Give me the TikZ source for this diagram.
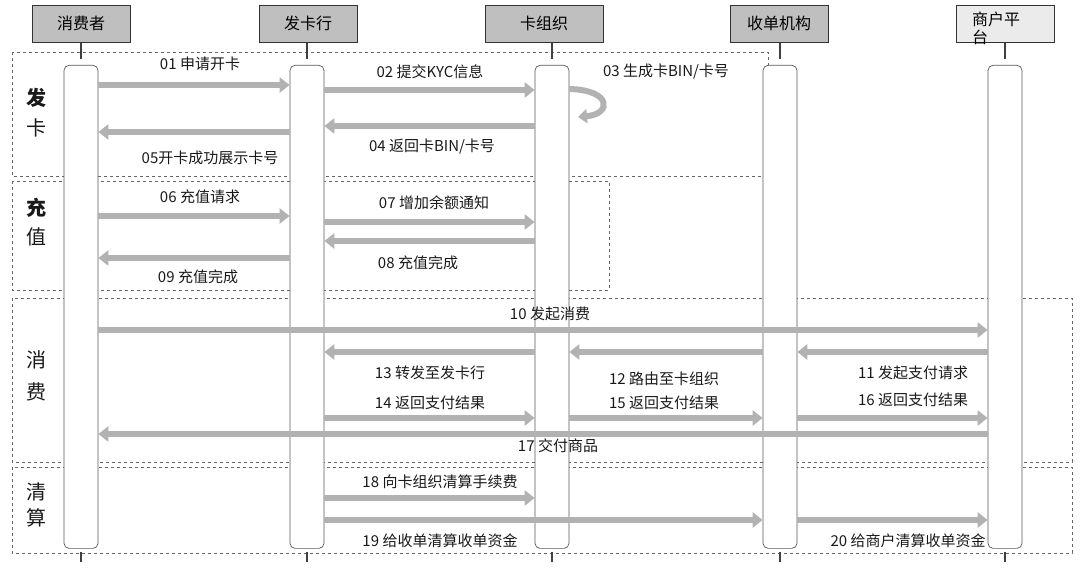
\documentclass[tikz,border=0pt]{standalone}
\usepackage{fontspec}
\setmainfont{Noto Sans CJK SC}
\usetikzlibrary{arrows.meta}
\begin{document}
\begin{tikzpicture}[x=1pt,y=-1pt,
  hdr/.style={draw=black!80,fill=black!25,line width=0.8pt,minimum width=98pt,minimum height=37pt,font=\fontsize{16}{18}\selectfont,anchor=north},
  bar/.style={draw=black!65,fill=white,line width=0.7pt,rounded corners=5pt,minimum width=34pt,anchor=north},
  msg/.style={line width=6pt,draw=black!30,-{Triangle[length=10pt,width=15pt]}},
  lab/.style={font=\fontsize{15}{17}\selectfont,text=black!90},
  grp/.style={draw=black!60,dashed,line width=0.7pt},
  glab/.style={font=\fontsize{20}{22}\selectfont,text=black!90},
  life/.style={draw=black!75,line width=1.5pt}]
\useasboundingbox (0,0) rectangle (1080,569);
% groups
\draw[grp] (12,52) rectangle (768,176);
\draw[grp] (12,181) rectangle (609,290);
\draw[grp] (12,298) rectangle (1072,462);
\draw[grp] (12,467) rectangle (1072,553);
\node[glab,font=\bfseries\fontsize{20}{22}\selectfont] (g1a) at (37,98) {发};
\node[glab] (g1b) at (37,128) {卡};
\node[glab,font=\bfseries\fontsize{20}{22}\selectfont] (g2a) at (37,208) {充};
\node[glab] (g2b) at (37,237) {值};
\node[glab] (g3a) at (37,360) {消};
\node[glab] (g3b) at (37,392) {费};
\node[glab] (g4a) at (37,492) {清};
\node[glab] (g4b) at (37,518) {算};
% headers
\node[hdr] (h1) at (81,5) {消费者};
\node[hdr] (h2) at (308,5) {发卡行};
\node[hdr,minimum width=118pt] (h3) at (544,5) {卡组织};
\node[hdr] (h4) at (779,5) {收单机构};
\node[hdr,fill=black!8] (h5) at (1005,5) {};
\node[font=\fontsize{16}{18}\selectfont,anchor=north west,inner sep=0pt,align=left] (h5t) at (972,12) {商户平\\台};
% bars
\node[bar,minimum height=483pt] (b1) at (81,65) {};
\node[bar,minimum height=483pt] (b2) at (307,65) {};
\node[bar,minimum height=483pt] (b3) at (552,65) {};
\node[bar,minimum height=483pt] (b4) at (780,65) {};
\node[bar,minimum height=483pt] (b5) at (1005,65) {};
\foreach \i in {1,...,5}{
  \draw[life] (h\i.south -| b\i.north) -- ++(0,16);
  \draw[life] (b\i.south) ++(0,3) -- ++(0,10);
}
% messages
\draw[msg] (b1.east |- 0,85) -- (b2.west |- 0,85);
\node[lab] (l01) at (200,64) {01 申请开卡};
\draw[msg] (b2.east |- 0,90) -- (b3.west |- 0,90);
\node[lab] (l02) at (430,72) {02 提交KYC信息};
\draw[line width=6pt,draw=black!30,-{Triangle[length=9pt,width=14pt]}] (b3.east |- 0,89) .. controls (612,90) and (612,114) .. (578,117);
\node[lab] (l03) at (666,72) {03 生成卡BIN/卡号};
\draw[msg] (b3.west |- 0,126) -- (b2.east |- 0,126);
\node[lab] (l04) at (432,147) {04 返回卡BIN/卡号};
\draw[msg] (b2.west |- 0,132) -- (b1.east |- 0,132);
\node[lab] (l05) at (210,158) {05开卡成功展示卡号};
\draw[msg] (b1.east |- 0,216) -- (b2.west |- 0,216);
\node[lab] (l06) at (200,197) {06 充值请求};
\draw[msg] (b2.east |- 0,222) -- (b3.west |- 0,222);
\node[lab] (l07) at (434,203) {07 增加余额通知};
\draw[msg] (b3.west |- 0,241) -- (b2.east |- 0,241);
\node[lab] (l08) at (418,263) {08 充值完成};
\draw[msg] (b2.west |- 0,258) -- (b1.east |- 0,258);
\node[lab] (l09) at (198,277) {09 充值完成};
\draw[msg] (b1.east |- 0,330) -- (b5.west |- 0,330);
\node[lab] (l10) at (550,314) {10 发起消费};
\draw[msg] (b5.west |- 0,352) -- (b4.east |- 0,352);
\node[lab] (l11) at (913,373) {11 发起支付请求};
\draw[msg] (b4.west |- 0,352) -- (b3.east |- 0,352);
\node[lab] (l12) at (664,379) {12 路由至卡组织};
\draw[msg] (b3.west |- 0,352) -- (b2.east |- 0,352);
\node[lab] (l13) at (430,373) {13 转发至发卡行};
\draw[msg] (b2.east |- 0,418) -- (b3.west |- 0,418);
\node[lab] (l14) at (430,403) {14 返回支付结果};
\draw[msg] (b3.east |- 0,418) -- (b4.west |- 0,418);
\node[lab] (l15) at (664,403) {15 返回支付结果};
\draw[msg] (b4.east |- 0,418) -- (b5.west |- 0,418);
\node[lab] (l16) at (913,400) {16 返回支付结果};
\draw[msg] (b5.west |- 0,434) -- (b1.east |- 0,434);
\node[lab] (l17) at (558,446) {17 交付商品};
\draw[msg] (b2.east |- 0,498) -- (b3.west |- 0,498);
\node[lab] (l18) at (440,482) {18 向卡组织清算手续费};
\draw[msg] (b2.east |- 0,520) -- (b4.west |- 0,520);
\node[lab] (l19) at (440,541) {19 给收单清算收单资金};
\draw[msg] (b4.east |- 0,520) -- (b5.west |- 0,520);
\node[lab] (l20) at (908,541) {20 给商户清算收单资金};
\end{tikzpicture}
\end{document}
